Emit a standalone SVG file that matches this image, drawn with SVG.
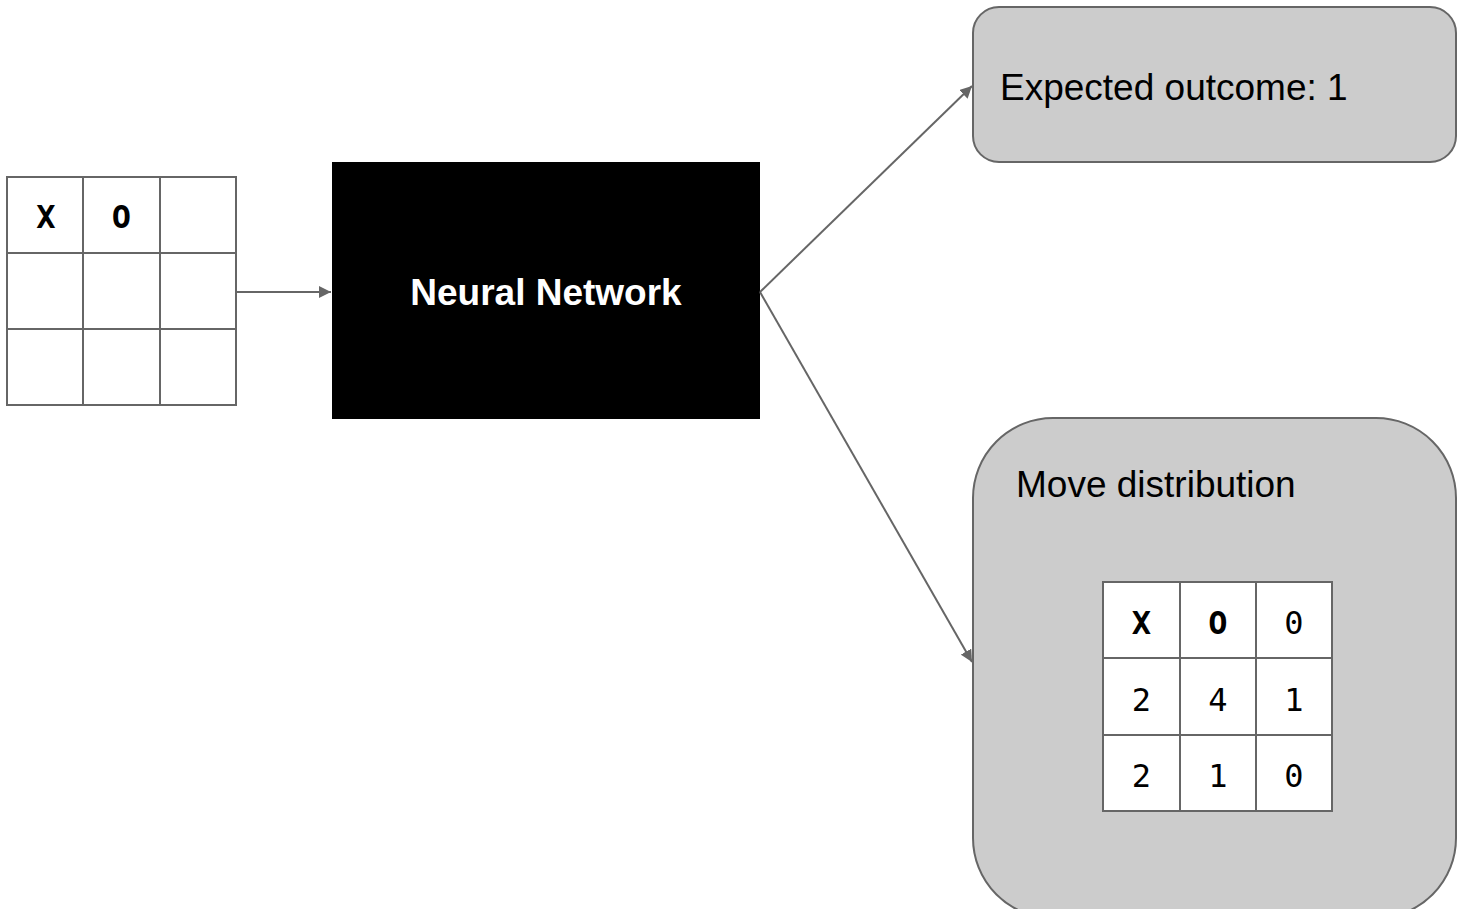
<svg xmlns="http://www.w3.org/2000/svg" width="1457" height="909" viewBox="0 0 1457 909">
  <style>
    .grid { fill: #ffffff; stroke: #666666; stroke-width: 2; }
    .gline { stroke: #666666; stroke-width: 2; fill: none; }
    .cell { font-family: "DejaVu Sans Mono", "Liberation Mono", monospace; font-size: 32px; fill: #000000; text-anchor: middle; }
    .bold { font-weight: bold; }
    .panel { fill: #cccccc; stroke: #666666; stroke-width: 2; }
    .label { font-family: "Liberation Sans", Arial, sans-serif; font-size: 37px; fill: #000000; }
    .edge { stroke: #666666; stroke-width: 2; fill: none; marker-end: url(#arrow); }
  </style>
  <defs>
    <marker id="arrow" viewBox="0 0 10 10" refX="10" refY="5" markerWidth="6" markerHeight="6" markerUnits="strokeWidth" orient="auto">
      <path d="M0,0 L10,5 L0,10 z" fill="#666666"/>
    </marker>
  </defs>

  <rect x="0" y="0" width="1457" height="909" fill="#ffffff"/>

  <!-- input board -->
  <g id="board">
    <rect class="grid" x="7" y="177" width="229" height="228"/>
    <path class="gline" d="M83,177 V405 M160,177 V405 M7,253 H236 M7,329 H236"/>
    <text class="cell bold" x="46" y="228">X</text>
    <text class="cell bold" x="121.5" y="228">O</text>
  </g>

  <!-- network -->
  <g id="network">
    <rect x="332" y="162" width="428" height="257" fill="#000000"/>
    <text x="546" y="305" font-family="Liberation Sans, Arial, sans-serif" font-size="37" font-weight="bold" fill="#ffffff" text-anchor="middle">Neural Network</text>
  </g>

  <!-- value head -->
  <g id="outcome">
    <rect class="panel" x="973" y="7" width="483" height="155" rx="26" ry="26"/>
    <text class="label" x="1000" y="100">Expected outcome: 1</text>
  </g>

  <!-- policy head -->
  <g id="distribution">
    <rect class="panel" x="973" y="418" width="483" height="500" rx="80" ry="80"/>
    <text class="label" x="1016" y="497">Move distribution</text>
    <rect class="grid" x="1103" y="582" width="229" height="229"/>
    <path class="gline" d="M1180,582 V811 M1256,582 V811 M1103,658 H1332 M1103,735 H1332"/>
    <text class="cell bold" x="1141.5" y="634">X</text>
    <text class="cell bold" x="1218" y="634">O</text>
    <text class="cell" x="1294" y="634">0</text>
    <text class="cell" x="1141.5" y="711">2</text>
    <text class="cell" x="1218" y="711">4</text>
    <text class="cell" x="1294" y="711">1</text>
    <text class="cell" x="1141.5" y="787">2</text>
    <text class="cell" x="1218" y="787">1</text>
    <text class="cell" x="1294" y="787">0</text>
  </g>

  <!-- connectors -->
  <g id="connectors">
    <line class="edge" x1="236" y1="292" x2="331" y2="292"/>
    <line class="edge" x1="760" y1="292" x2="972" y2="86"/>
    <line class="edge" x1="760" y1="292" x2="972" y2="662"/>
  </g>
</svg>
